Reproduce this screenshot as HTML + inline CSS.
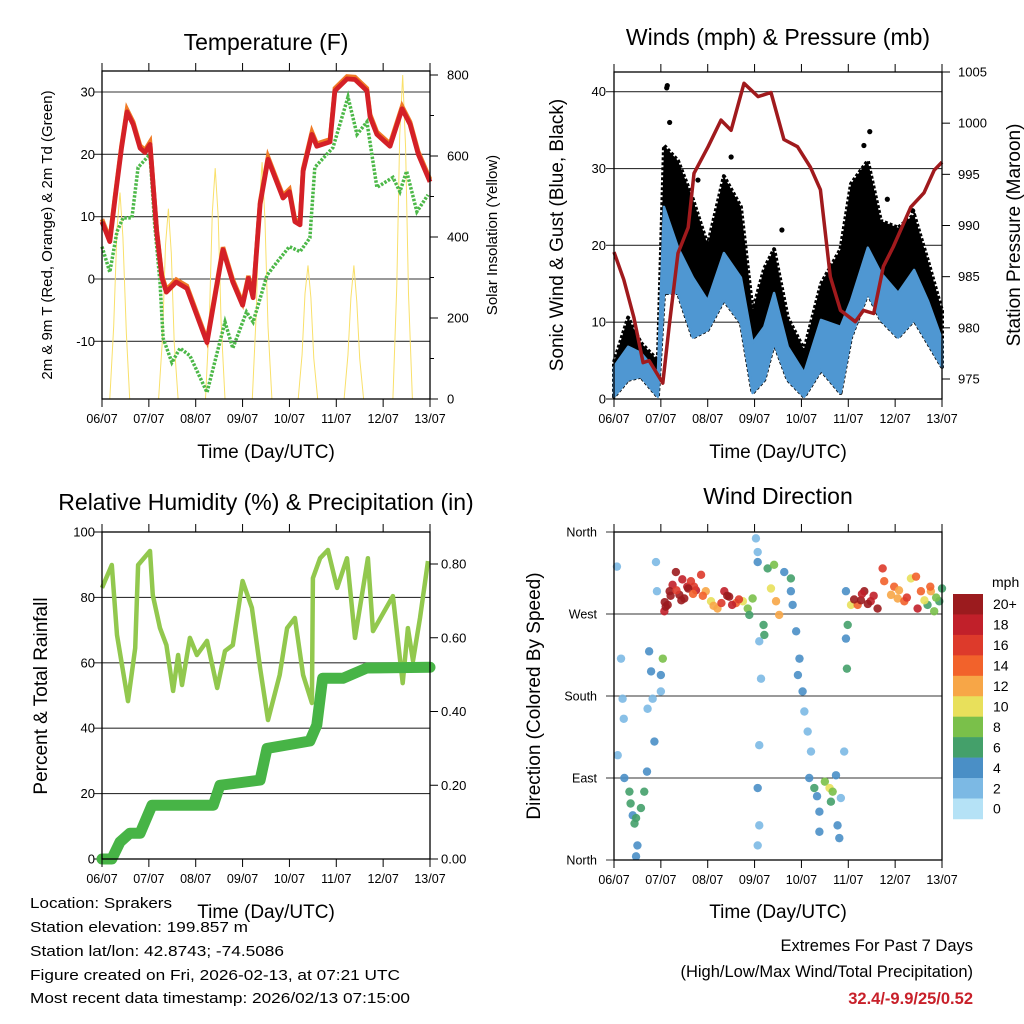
<!DOCTYPE html>
<html><head><meta charset="utf-8"><style>
html,body{margin:0;padding:0;background:#fff;}
svg{display:block;font-family:"Liberation Sans",sans-serif;}
</style></head><body>
<svg id="fig" width="1024" height="1024" viewBox="0 0 1024 1024" xmlns="http://www.w3.org/2000/svg">
<rect width="1024" height="1024" fill="#fff"/>
<g id="p1"></g>
<g id="p2"></g>
<g id="p3"></g>
<g id="p4"></g>
<g id="colorbar"></g>

<text x="266" y="50" font-size="23" text-anchor="middle">Temperature (F)</text>
<text transform="translate(52,235) rotate(-90)" font-size="15" text-anchor="middle">2m &amp; 9m T (Red, Orange) &amp; 2m Td (Green)</text>
<text transform="translate(497,235) rotate(-90)" font-size="15" text-anchor="middle">Solar Insolation (Yellow)</text>
<text x="266" y="458" font-size="19" text-anchor="middle">Time (Day/UTC)</text>

<text x="778" y="45" font-size="23" text-anchor="middle">Winds (mph) &amp; Pressure (mb)</text>
<text transform="translate(563,235) rotate(-90)" font-size="19" text-anchor="middle">Sonic Wind &amp; Gust (Blue, Black)</text>
<text transform="translate(1020,235) rotate(-90)" font-size="19" text-anchor="middle">Station Pressure (Maroon)</text>
<text x="778" y="458" font-size="19" text-anchor="middle">Time (Day/UTC)</text>

<text x="266" y="510" font-size="23" text-anchor="middle">Relative Humidity (%) &amp; Precipitation (in)</text>
<text transform="translate(47,696) rotate(-90)" font-size="19" text-anchor="middle">Percent &amp; Total Rainfall</text>
<text x="266" y="918" font-size="19" text-anchor="middle">Time (Day/UTC)</text>

<text x="778" y="504" font-size="23" text-anchor="middle">Wind Direction</text>
<text transform="translate(540,696) rotate(-90)" font-size="19" text-anchor="middle">Direction (Colored By Speed)</text>
<text x="778" y="918" font-size="19" text-anchor="middle">Time (Day/UTC)</text>

<g font-size="15">
<text x="30" y="908" textLength="142" lengthAdjust="spacingAndGlyphs">Location: Sprakers</text>
<text x="30" y="932" textLength="218" lengthAdjust="spacingAndGlyphs">Station elevation: 199.857 m</text>
<text x="30" y="956" textLength="254" lengthAdjust="spacingAndGlyphs">Station lat/lon: 42.8743; -74.5086</text>
<text x="30" y="980" textLength="370" lengthAdjust="spacingAndGlyphs">Figure created on Fri, 2026-02-13, at 07:21 UTC</text>
<text x="30" y="1003" textLength="380" lengthAdjust="spacingAndGlyphs">Most recent data timestamp: 2026/02/13 07:15:00</text>
</g>
<g text-anchor="end">
<text x="973" y="951" font-size="16.5">Extremes For Past 7 Days</text>
<text x="973" y="977" font-size="16.5">(High/Low/Max Wind/Total Precipitation)</text>
<text x="973" y="1004" font-size="16.5" font-weight="bold" fill="#c8202a">32.4/-9.9/25/0.52</text>
</g>
</svg>
<script>
// ---------- Data ----------
const dayLabels = ["06/07","07/07","08/07","09/07","10/07","11/07","12/07","13/07"];
const tempHours = [0,4,6.7,10,12.8,16,19.5,22,24.6,28,30.7,33,38,43.5,53.8,62,67,72,75,77.4,81,85,88.6,92.7,96,98.8,101.4,103,107.5,110,116.8,119.3,125.5,129.6,135.7,137.3,140.8,147.5,153.7,157.8,162,168];
const tempValues = [9.2,6,13,21,26.8,24.8,21,20.3,21.6,7.6,0.2,-2.1,-0.5,-1.5,-10.2,4.7,-0.5,-4.2,0.1,-3,12,19.2,16.3,13,14,9.2,8.7,17.3,23.2,21.3,22,30.2,32.1,32,30.2,26,23.2,21.3,27.3,24.8,20,15.6];
const dewHours = [0,4,7.7,10.8,15.3,18.5,24.6,27,29.7,31.3,35.8,40,45,53.8,63,67,74,77.4,84.5,89.6,96,101.4,106.5,109,118.3,126,130.6,135.7,140.8,149,152.6,156,161.3,167];
const dewValues = [5.2,1.1,7.6,9.8,9.8,17.9,20,8.7,-0.5,-9.5,-13.4,-11.1,-12.3,-18.2,-6.9,-11.1,-5.3,-6.9,0.6,2.7,5.2,4.4,6.6,17.9,21.1,29.2,23.2,25.2,14.7,16.3,14,17.3,10.8,13.5];
const solarHours = [4,6,7.7,9.2,10.7,12.5,14.2, 29,31,32.5,34,35.5,37,39, 53,55,56.5,58,59.5,61,63, 77,79,80.5,82,83.5,85,87, 100.5,102.5,104,105.5,107,108.5,110.5, 124,126,127.5,129,130.5,132,134, 149,151,152.5,154,155.5,157,159];
const solarValues = [0,180,420,510,400,160,0, 0,150,380,470,360,140,0, 0,200,460,570,450,190,0, 0,210,470,585,440,180,0, 0,110,260,330,250,100,0, 0,110,250,330,240,100,0, 0,280,650,800,620,260,0];
const windHours = [0,7.2,13.8,22.5,25.6,32.8,40.4,48,56.3,65,71,77,82,89,97.4,106,116,121.4,130,136.7,145.5,153.7,160.8,168];
const windLow = [0.3,2.5,2.9,0.3,13.8,13.8,8,9,12.9,9.9,0.8,2.5,7.3,2.5,0.3,3.8,0.8,8,13.8,10.3,8,10.3,7.3,4.2];
const windHigh = [4.2,6.8,6,3.4,25,19.7,15.8,12.8,19,15.8,7.3,9.4,13.8,6.8,3.4,10.3,9.4,12.8,19.7,16.4,13.8,16.8,12.8,7.7];
const gustHigh = [4.8,10.6,7.3,5,33,31,26,20,29,25,11.5,17,19.5,10.6,6.4,15,19.5,28,31,23.2,22.3,24,18,11.5];
const gustOutlierHours = [27,27.3,28.5,43,60,86,128,131,140,153];
const gustOutlierValues = [40.5,40.8,36,28.5,31.5,22,33,34.8,26,24.5];
const presHours = [0,5,10.2,14.9,18,25,28.2,32.8,38,41,48.2,54.8,60,66.6,73.8,80.4,87,94,100.6,105.7,110.8,116,123.6,127.8,133,138,143,152,158.8,164,168];
const presValues = [987.4,984.7,981,976.6,976.8,974.6,980.1,987.3,989.8,995.1,997.7,1000.3,999.3,1003.9,1002.6,1003,998.4,997.7,995.7,993.5,985,981.7,980.6,981.7,981.4,986,987.9,991.8,993.2,995.4,996.2];
const rhHours = [0,5,7.7,13.3,17,18.5,24.6,26,29.7,33,36.4,39,41,45,48.6,53.8,59,63,67,72,76.8,81,85,91,94.8,98.8,103,107.5,108,111.7,115.7,120.4,125.5,129.6,136.2,138.8,149,154,156.7,159.3,162.9,167];
const rhValues = [82.9,89.9,68.5,48.3,64.5,89.9,94.2,80.7,70.6,65.4,51.4,62.4,53.2,67.6,62.4,66.7,52.3,63.6,65.4,85,76.8,58.4,42.5,56.3,70.6,73.7,56.3,47.7,85.9,92,94.5,82.9,92,67.6,92,69.7,80.4,53.8,70.6,60.6,73.7,91.1];
const precipHours = [0,5,9.2,14.3,19.5,25.6,57,60.4,81,84.5,106.5,110,113,123.4,135.7,168];
const precipValues = [0,0,0.046,0.07,0.07,0.146,0.146,0.2,0.214,0.3,0.32,0.363,0.49,0.49,0.518,0.52];
const dirHours = [1.5,3.6,4.4,5,1.9,5.3,7.9,9.6,11.3,12,11.3,13.8,15.5,16.9,17.2,18,19,19.8,20.7,21.5,22,24,25,24,8.5,10.5,
25.8,26.5,27.5,30,31.7,33.5,36,37.5,39.4,42,44.6,47,49.7,53,56.5,58,59,62.5,66,68.5,69.3,71,28.5,34.5,41,45.5,55,60.5,
73.6,72.7,73.6,74.4,75.3,74.4,73.6,74.4,73.6,76.6,77,78.7,80.4,82,83,84.6,87.2,90.6,90.6,91.5,93.3,95,94.2,96.6,97.5,99.2,100.9,100,102.6,105.2,105.2,108,110.4,111.1,113.7,114.5,116.2,117.9,115.4,104,112,
118.8,118.8,119.3,119.7,121.4,124.8,128.2,131.5,135,137.6,138.4,141.9,145.3,148.7,152.1,154.7,155.5,157.2,160.6,162.3,164,166.6,168,126.5,133,143.5,150,159,
26,29,32,35,38,40.5,51,64,123,127,130,146,162,165];
const dirValues = [322,221,177,155,115,90,75,49,46,16,4,57,75,97,166,229,207,177,130,327,295,203,221,185,62,40,
273,278,280,302,316,291,287,300,306,296,313,295,284,276,295,290,289,282,284,276,269,287,295,285,300,290,282,280,
338,353,327,240,199,126,79,38,16,258,247,320,298,324,284,269,316,295,309,280,251,221,203,185,163,141,119,90,79,53,31,86,79,64,93,38,68,119,24,70,75,
295,243,210,258,280,280,295,284,276,320,306,291,287,284,309,311,276,295,280,295,273,284,298,285,290,300,288,285,
283,290,296,308,298,292,279,286,286,292,281,296,300,288];
const dirSpeeds = [1,1,1,1,2,3,6,4,6,4,4,6,6,3,2,3,4,2,3,2,2,4,8,2,5,6,
18,20,20,18,20,20,20,17,16,18,16,12,10,12,18,19,20,14,10,8,6,8,20,20,15,14,16,18,
2,1,4,2,1,1,4,1,1,6,6,6,10,8,12,12,4,4,6,4,3,3,4,3,2,2,2,4,6,4,4,8,10,6,4,4,2,1,4,3,7,
4,4,6,6,10,14,20,18,20,16,14,12,12,14,10,14,18,14,6,12,8,6,6,19,17,13,15,9,
20,19,16,18,20,14,12,16,19,18,20,12,14,7];
const barLabels = ["20+","18","16","14","12","10","8","6","4","2","0"];
const barColors = ["#9b1b1e","#c1202a","#dd3a2b","#f2622b","#f7a647","#e8e05b","#7ac04a","#44a06a","#4a8fc6","#7cb9e4","#b5e2f6"];

// ---------- Helpers ----------
const NS = "http://www.w3.org/2000/svg";
function mk(tag, attrs, parent){const e=document.createElementNS(NS,tag);for(const k in attrs)e.setAttribute(k,attrs[k]);parent.appendChild(e);return e;}
function linScale(d0,d1,r0,r1){return v=>r0+(v-d0)/(d1-d0)*(r1-r0);}
function pathFrom(xs,ys,sx,sy){return xs.map((h,i)=>(i?"L":"M")+sx(h).toFixed(1)+","+sy(ys[i]).toFixed(1)).join("");}
function bandFrom(xs,lo,hi,sx,sy){let d=xs.map((h,i)=>(i?"L":"M")+sx(h).toFixed(1)+","+sy(hi[i]).toFixed(1)).join("");
 for(let i=xs.length-1;i>=0;i--)d+="L"+sx(xs[i]).toFixed(1)+","+sy(lo[i]).toFixed(1);return d+"Z";}
function colorFor(s){let idx=Math.min(10,Math.floor((s+1)/2));return barColors[10-idx];}

function frame(g,x0,y0,x1,y1,sx){
 const box=mk("rect",{x:x0,y:y0,width:x1-x0,height:y1-y0,fill:"none",stroke:"#000","stroke-width":1.3},g);
 
 
 dayLabels.forEach((lab,i)=>{const x=sx(i*24);
  mk("line",{x1:x,x2:x,y1:y0,y2:y0-8,stroke:"#000","stroke-width":1},g);
  mk("line",{x1:x,x2:x,y1:y1,y2:y1+8,stroke:"#000","stroke-width":1},g);
  const t=mk("text",{x:x,y:y1+24,"font-size":12.5,"text-anchor":"middle"},g);t.textContent=lab;
  
  
 });
}
function hgrid(g,x0,x1,y,color){mk("line",{x1:x0-8,x2:x1,y1:y,y2:y,stroke:color||"#333","stroke-width":1.1},g);}
function leftLabel(g,x,y,txt,fs){const t=mk("text",{x:x,y:y+4.5,"font-size":fs||13,"text-anchor":"end"},g);t.textContent=txt;
 
 }
function rightLabel(g,x,y,txt){const t=mk("text",{x:x,y:y+4.5,"font-size":13,"text-anchor":"start"},g);t.textContent=txt;
 
 }

// ---------- Panel 1: Temperature ----------
(function(){
 const g=document.getElementById("p1");
 const x0=102,x1=430,y0=71,y1=399;
 const sx=linScale(0,168,x0,x1), sy=linScale(0,30,279,92), ss=linScale(0,800,399,75);
 [30,20,10,0,-10].forEach(v=>{hgrid(g,x0,x1,sy(v));leftLabel(g,95,sy(v),String(v));});
 [0,200,400,600,800].forEach(v=>{mk("line",{x1:x1,x2:x1+8,y1:ss(v),y2:ss(v),stroke:"#000"},g);rightLabel(g,447,ss(v),String(v));});
 [100,300,500,700].forEach(v=>mk("line",{x1:x1,x2:x1+4,y1:ss(v),y2:ss(v),stroke:"#000"},g));
 const sol=mk("path",{d:pathFrom(solarHours,solarValues,sx,ss),fill:"none",stroke:"#f9e06a","stroke-width":1},g);
 
 
 const dew=mk("path",{d:pathFrom(dewHours,dewValues,sx,sy),fill:"none",stroke:"#4cb848","stroke-width":3.5,"stroke-dasharray":"2.5 1.5"},g);
 
 
 const t9=mk("path",{d:pathFrom(tempHours,tempValues.map(v=>v+0.4),sx,sy),fill:"none",stroke:"#f07a25","stroke-width":4.5},g);
 
 
 const t2=mk("path",{d:pathFrom(tempHours,tempValues,sx,sy),fill:"none",stroke:"#d42027","stroke-width":4.8,"stroke-linejoin":"round"},g);
 
 
 frame(g,x0,y0,x1,y1,sx);
})();

// ---------- Panel 2: Winds ----------
(function(){
 const g=document.getElementById("p2");
 const x0=614,x1=942,y0=72,y1=399;
 const sx=linScale(0,168,x0,x1), sy=linScale(0,40,399,91.7), sp=linScale(975,1005,379,72);
 [40,30,20,10].forEach(v=>hgrid(g,x0,x1,sy(v)));
 [40,30,20,10,0].forEach(v=>{leftLabel(g,606,sy(v),String(v));if(v===0)mk("line",{x1:x0-8,x2:x0,y1:sy(0),y2:sy(0),stroke:"#000"},g);});
 [975,980,985,990,995,1000,1005].forEach(v=>{mk("line",{x1:x1,x2:x1+8,y1:sp(v),y2:sp(v),stroke:"#000"},g);rightLabel(g,958,sp(v),String(v));});
 const gust=mk("path",{d:bandFrom(windHours,windLow,gustHigh,sx,sy),fill:"#000",stroke:"#000","stroke-width":4,"stroke-linejoin":"round","stroke-dasharray":"3 2"},g);
 
 
 gustOutlierHours.forEach((h,i)=>{const c=mk("circle",{cx:sx(h),cy:sy(gustOutlierValues[i]),r:2.6,fill:"#000"},g);
  
  });
 const wind=mk("path",{d:bandFrom(windHours,windLow,windHigh,sx,sy),fill:"#4f97d2",stroke:"#4f97d2","stroke-width":2.5,"stroke-linejoin":"round"},g);
 
 
 const pr=mk("path",{d:pathFrom(presHours,presValues,sx,sp),fill:"none",stroke:"#a01a1d","stroke-width":3.5,"stroke-linejoin":"round"},g);
 
 
 frame(g,x0,y0,x1,y1,sx);
})();

// ---------- Panel 3: Humidity ----------
(function(){
 const g=document.getElementById("p3");
 const x0=102,x1=430,y0=532,y1=859;
 const sx=linScale(0,168,x0,x1), sy=linScale(0,100,859,532), sp=linScale(0,0.8,859,564);
 [80,60,40,20].forEach(v=>hgrid(g,x0,x1,sy(v)));
 [100,80,60,40,20,0].forEach(v=>leftLabel(g,95,sy(v),String(v)));
 mk("line",{x1:x0-8,x2:x0,y1:sy(0),y2:sy(0),stroke:"#000"},g);mk("line",{x1:x0-8,x2:x0,y1:sy(100),y2:sy(100),stroke:"#000"},g);
 [0,0.2,0.4,0.6,0.8].forEach(v=>{mk("line",{x1:x1,x2:x1+8,y1:sp(v),y2:sp(v),stroke:"#000"},g);rightLabel(g,441,sp(v),v.toFixed(2));});
 const rh=mk("path",{d:pathFrom(rhHours,rhValues,sx,sy),fill:"none",stroke:"#92c84e","stroke-width":4.5,"stroke-linejoin":"round"},g);
 
 
 const pc=mk("path",{d:pathFrom(precipHours,precipValues,sx,sp),fill:"none",stroke:"#47b446","stroke-width":11,"stroke-linejoin":"round","stroke-linecap":"round"},g);
 
 
 frame(g,x0,y0,x1,y1,sx);
})();

// ---------- Panel 4: Wind direction ----------
(function(){
 const g=document.getElementById("p4");
 const x0=614,x1=942,y0=532,y1=860;
 const sx=linScale(0,168,x0,x1), sy=linScale(0,360,860,532);
 const names=["North","East","South","West","North"];
 [0,90,180,270,360].forEach((v,i)=>{hgrid(g,x0,x1,sy(v));leftLabel(g,597,sy(v),names[i],12.5);});
 dirHours.forEach((h,i)=>{
  const c=mk("circle",{cx:sx(h),cy:sy(dirValues[i]),r:4.2,fill:colorFor(dirSpeeds[i]),"fill-opacity":0.9},g);
  
  
 });
 frame(g,x0,y0,x1,y1,sx);
})();

// ---------- Colorbar ----------
(function(){
 const g=document.getElementById("colorbar");
 const bx=953,by=594,bw=30,bh=20.45;
 barLabels.forEach((lab,i)=>{
  const r=mk("rect",{x:bx,y:by+i*bh,width:bw,height:bh+0.3,fill:barColors[i]},g);
  
  
  const t=mk("text",{x:993,y:by+i*bh+bh/2+5,"font-size":14},g);t.textContent=lab;
  
  
 });
 const u=mk("text",{x:992,y:587,"font-size":14},g);u.textContent="mph";
 
 
})();
</script>
</body></html>
